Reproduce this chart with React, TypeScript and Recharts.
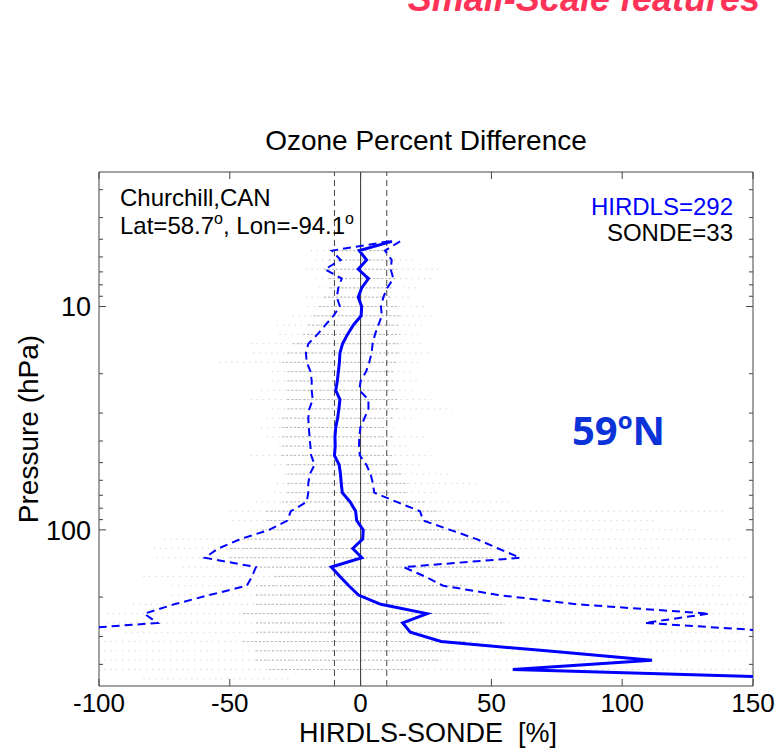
import React from 'react';
import {
    ComposedChart,
    XAxis,
    YAxis,
    Scatter,
    ReferenceLine,
    ReferenceArea
} from 'recharts';

// plot frame in page pixels
const W = 778;
const H = 749;
const PL = 99;
const PR = 753;
const PT = 172;
const PB = 686;

const FONT = '"Liberation Sans", Arial, Helvetica, sans-serif';

// HIRDLS pressure grid (hPa), 24 levels per decade, top level first
const LEVELS = [
    5.109, 5.623, 6.190, 6.813, 7.499, 8.254, 9.085, 10.0,
    11.007, 12.115, 13.335, 14.678, 16.156, 17.783, 19.573, 21.544, 23.714, 26.102, 28.730, 31.623,
    34.807, 38.312, 42.170, 46.416, 51.090, 56.234, 61.897, 68.129, 74.989, 82.540, 90.852, 100.0,
    110.07, 121.15, 133.35, 146.78, 161.56, 177.83, 195.73, 215.44, 237.14, 261.02, 287.30, 316.23,
    348.07, 383.12, 421.70, 464.16
];

// mean HIRDLS-SONDE difference [%]
const MEAN_DIFF = [
    12, -0.5, 2.3, -0.9, 3.0, 0.4, -0.9, 0.4,
    0.2, -2.8, -5.0, -6.9, -7.9, -8.1, -8.5, -8.9, -9.5, -7.9, -8.3, -8.8,
    -9.5, -9.8, -9.7, -10.0, -8.2, -7.7, -7.4, -7.0, -4.0, -1.9, -1.5, 1.0,
    0.8, -3.0, 0.5, -11.2, -7.9, -4.5, -0.8, 7.7, 25.4, 16.1, 19.0, 30.8,
    71.0, 111.4, 58.2, 180.0
];

// mean - 1 sigma
const LOWER_SIGMA = [
    11, -11, -7.6, -13.6, -7.2, -8.5, -9.1, -7.9,
    -10.4, -13.5, -16.5, -20, -20.9, -20.6, -19.1, -18.7, -18.7, -18.3, -19.6, -20,
    -19.8, -19.5, -19.2, -18.9, -17.6, -19.4, -20, -20, -20.6, -26.7, -28, -35,
    -46, -54.4, -59.6, -40, -41.5, -43.5, -57.8, -71.3, -82.7, -77.6, -126
];

// mean + 1 sigma
const UPPER_SIGMA = [
    15.1, 9.3, 11.9, 11.5, 12.5, 10.2, 8.7, 7.8,
    8.1, 6.8, 5.5, 4.6, 4.2, 3.3, 2.1, 0, -0.5, 3.0, 3.0, 1.5,
    -0.1, -0.5, -0.6, -0.3, 2.2, 3.8, 4.7, 5.2, 13.8, 22.7, 24.0, 34.2,
    44.4, 52.6, 61, 16.5, 24.5, 31.6, 52.6, 82.9, 133.3, 108.6, 164
];

// spread of the individual coincidences on each level (sparse outer range)
const DOT_LO = [
    null, -19, -17, -21, -17, -16, -21, -20,
    -26, -32, -31, -42, -41, -54, -34, -34, -38, -42, -34, -36,
    -38, -36, -31, -42, -33, -29, -32, -33, -40, -50, -49, -42,
    -75, -79, -78, -68, -83, -72, -72, -87, -97, -97, -90, -98,
    -98, -98, -98, -83
];
const DOT_HI = [
    null, 12, 21, 30, 27, 22, 20, 24,
    27, 25, 24, 24, 27, 22, 20, 22, 20, 27, 35, 21,
    13, 25, 18, 27, 24, 35, 44, 30, 57, 140, 112, 130,
    143, 115, 148, 138, 148, 138, 148, 148, 148, 148, 145, 148,
    148, 111, 148, -26
];

// dense core of the coincidences on each level
const CORE_LO = [
    null, -12, -12, -14, -12, -12, -14, -16,
    -18, -20, -22, -26, -28, -30, -28, -28, -28, -28, -28, -30,
    -30, -30, -30, -30, -28, -28, -28, -28, -30, -36, -36, -38,
    -45, -50, -50, -40, -33, -40, -40, -40, -45, -40, -40, -45,
    -40, -40, -35, null
];
const CORE_HI = [
    null, 10, 12, 14, 14, 12, 12, 14,
    15, 15, 15, 15, 15, 14, 13, 13, 13, 14, 14, 12,
    10, 12, 10, 12, 14, 16, 18, 18, 25, 30, 32, 38,
    45, 50, 50, 52, 24, 40, 45, 55, 50, 55, 45, 40,
    35, 30, 20, null
];

const X_TICKS = [-100, -50, 0, 50, 100, 150];
const Y_TICKS = [3, 4, 5, 6, 7, 8, 9, 10, 20, 30, 40, 50, 60, 70, 80, 90, 100, 200, 300, 400];
const Y_LABELS = [10, 100];

const toPoints = (vals: number[]) => vals.map((x, i) => ({ x, p: LEVELS[i] }));

const meanPts = toPoints(MEAN_DIFF);
const lowerPts = toPoints(LOWER_SIGMA);
const upperPts = toPoints(UPPER_SIGMA);

const AXIS_GREY = '#444';

const renderXTick = (props: any) => {
    const { x, payload } = props;
    return (
        <g>
            <line x1={x} x2={x} y1={PB} y2={PB - 7} stroke={AXIS_GREY} />
            <line x1={x} x2={x} y1={PT} y2={PT + 7} stroke={AXIS_GREY} />
            <text x={x} y={PB + 26} textAnchor="middle" fontSize={26} fontFamily={FONT} fill="#000">
                {payload.value}
            </text>
        </g>
    );
};

const renderYTick = (props: any) => {
    const { y, payload } = props;
    const major = Y_LABELS.includes(payload.value);
    const len = major ? 7 : 4;
    return (
        <g>
            <line x1={PL} x2={PL + len} y1={y} y2={y} stroke={AXIS_GREY} />
            <line x1={PR} x2={PR - len} y1={y} y2={y} stroke={AXIS_GREY} />
            {major && (
                <text x={PL - 8} y={y + 10} textAnchor="end" fontSize={27} fontFamily={FONT} fill="#000">
                    {payload.value}
                </text>
            )}
        </g>
    );
};

const noShape = () => <g />;

const App: React.FC = () => {
    return (
        <div style={{ position: 'absolute', left: 0, top: 0, width: W, height: H, background: '#fff' }}>
            <ComposedChart
                width={W}
                height={H}
                margin={{ top: PT, right: W - PR, left: 0, bottom: 0 }}
            >
                <XAxis
                    type="number"
                    dataKey="x"
                    domain={[-100, 150]}
                    ticks={X_TICKS}
                    interval={0}
                    allowDataOverflow
                    axisLine={false}
                    tickLine={false}
                    height={H - PB}
                    tick={renderXTick}
                />
                <YAxis
                    type="number"
                    dataKey="p"
                    scale="log"
                    domain={[2.5, 500]}
                    reversed
                    ticks={Y_TICKS}
                    interval={0}
                    allowDataOverflow
                    axisLine={false}
                    tickLine={false}
                    width={PL}
                    tick={renderYTick}
                />

                {LEVELS.map((p, i) =>
                    DOT_LO[i] === null ? null : (
                        <ReferenceLine
                            key={`dots-${i}`}
                            segment={[{ x: DOT_LO[i] as number, y: p }, { x: DOT_HI[i] as number, y: p }]}
                            stroke="#c8c8c8"
                            strokeWidth={1}
                            strokeDasharray="1 5"
                        />
                    )
                )}
                {LEVELS.map((p, i) =>
                    CORE_LO[i] === null ? null : (
                        <ReferenceLine
                            key={`core-${i}`}
                            segment={[{ x: CORE_LO[i] as number, y: p }, { x: CORE_HI[i] as number, y: p }]}
                            stroke="#b4b4b4"
                            strokeWidth={1}
                            strokeDasharray="2 2"
                        />
                    )
                )}

                <ReferenceLine x={0} stroke="#333" strokeWidth={1} />
                <ReferenceLine x={-10} stroke="#444" strokeWidth={1} strokeDasharray="6 4" />
                <ReferenceLine x={10} stroke="#444" strokeWidth={1} strokeDasharray="6 4" />

                <Scatter
                    data={lowerPts}
                    fill="#0000ff"
                    line={{ stroke: '#0000ff', strokeWidth: 2, strokeDasharray: '8 5' }}
                    lineType="joint"
                    shape={noShape}
                    isAnimationActive={false}
                />
                <Scatter
                    data={upperPts}
                    fill="#0000ff"
                    line={{ stroke: '#0000ff', strokeWidth: 2, strokeDasharray: '8 5' }}
                    lineType="joint"
                    shape={noShape}
                    isAnimationActive={false}
                />
                <Scatter
                    data={meanPts}
                    fill="#0000ff"
                    line={{ stroke: '#0000ff', strokeWidth: 3 }}
                    lineType="joint"
                    shape={noShape}
                    isAnimationActive={false}
                />

                <ReferenceArea x1={-100} x2={150} y1={2.5} y2={500} fill="none" stroke={AXIS_GREY} strokeWidth={1} />
            </ComposedChart>

            <svg
                width={W}
                height={H}
                style={{ position: 'absolute', left: 0, top: 0, pointerEvents: 'none' }}
            >
                <text x={760} y={11} textAnchor="end" fontSize={36} fontWeight="bold" fontStyle="italic"
                    fontFamily={FONT} fill="#ff3358">
                    Small-Scale features
                </text>
                <text x={(PL + PR) / 2} y={150} textAnchor="middle" fontSize={28} fontFamily={FONT} fill="#000">
                    Ozone Percent Difference
                </text>
                <text x={120} y={206} fontSize={24} fontFamily={FONT} fill="#000">Churchill,CAN</text>
                <text x={120} y={234} fontSize={24} fontFamily={FONT} fill="#000">
                    Lat=58.7<tspan fontSize={16} dy={-10}>o</tspan>
                    <tspan dy={10}>, Lon=-94.1</tspan>
                    <tspan fontSize={16} dy={-10}>o</tspan>
                </text>
                <text x={733} y={215} textAnchor="end" fontSize={24} fontFamily={FONT} fill="#0000ff">HIRDLS=292</text>
                <text x={733} y={241} textAnchor="end" fontSize={24} fontFamily={FONT} fill="#000">SONDE=33</text>
                <text x={572} y={445} fontSize={40} fontWeight="bold" fontFamily='"Open Sans", "Noto Sans", sans-serif' fill="#0b33d8">
                    59<tspan fontSize={24} dy={-16}>o</tspan><tspan dy={16}>N</tspan>
                </text>
                <text x={(PL + PR) / 2 + 2} y={742} textAnchor="middle" fontSize={27} fontFamily={FONT} fill="#000"
                    style={{ whiteSpace: 'pre' }}>
                    {'HIRDLS-SONDE  [%]'}
                </text>
                <text
                    transform={`translate(38, ${(PT + PB) / 2}) rotate(-90)`}
                    textAnchor="middle"
                    fontSize={28}
                    fontFamily={FONT}
                    fill="#000"
                >
                    Pressure (hPa)
                </text>
            </svg>
        </div>
    );
};

export default App;
